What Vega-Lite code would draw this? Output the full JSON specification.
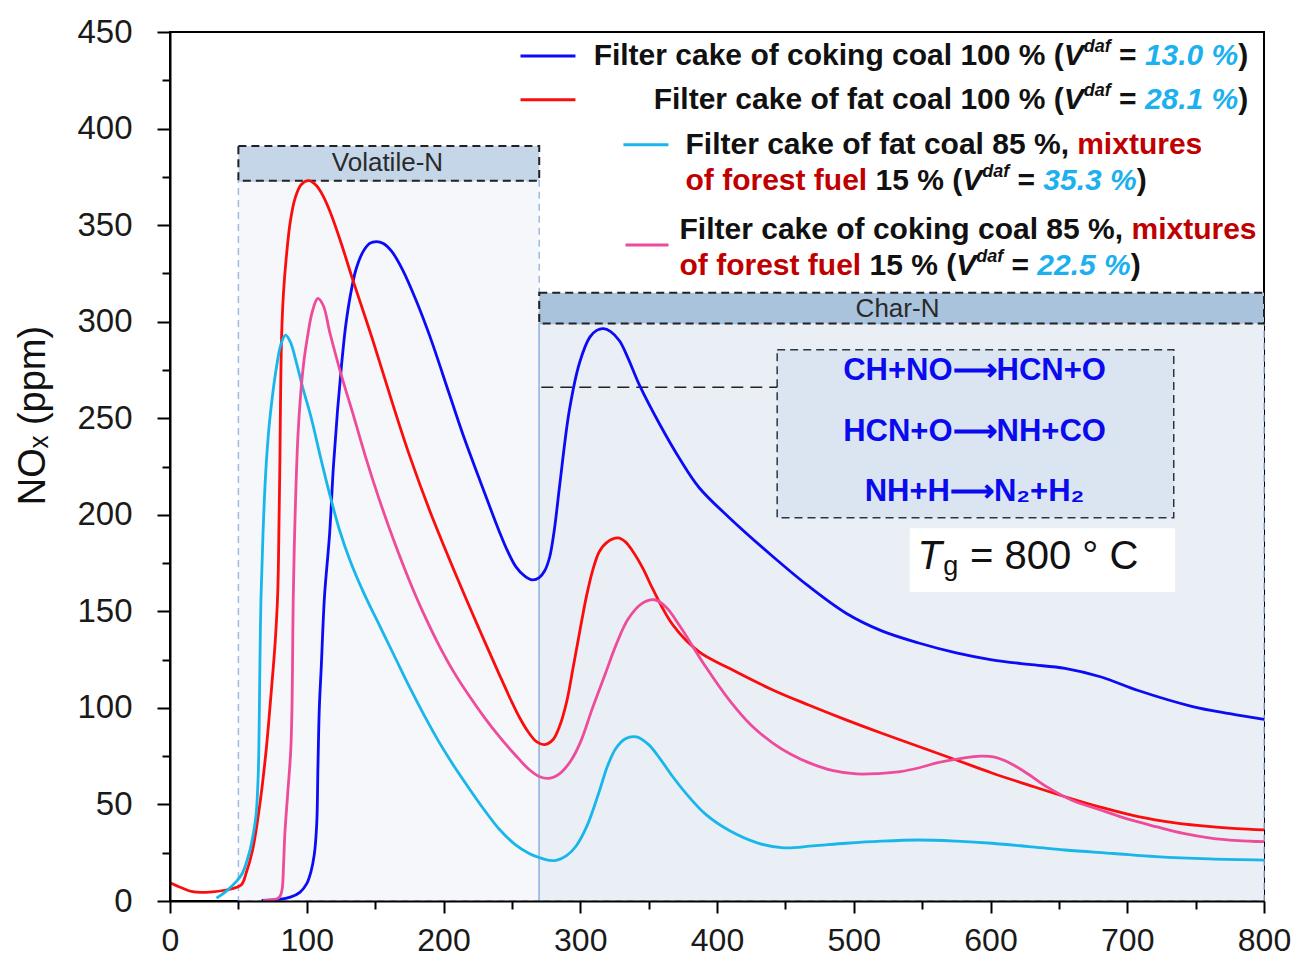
{
"$schema":"https://vega.github.io/schema/vega-lite/v6.json",
"width":1094,"height":869,
"autosize":"none",
"padding":{"left":170,"top":32,"right":30,"bottom":57},
"background":"white",
"config":{"view":{"stroke":"#000","strokeWidth":2},"font":"Liberation Sans"},
"datasets":{
"curves":[
{"series":"coking100","x":67,"y":0.3},{"series":"coking100","x":80,"y":0.8},{"series":"coking100","x":88,"y":2},{"series":"coking100","x":95,"y":4.5},{"series":"coking100","x":100,"y":9},{"series":"coking100","x":103,"y":15},{"series":"coking100","x":105.5,"y":24},{"series":"coking100","x":107.3,"y":40},{"series":"coking100","x":108.2,"y":70},{"series":"coking100","x":109.2,"y":100},{"series":"coking100","x":110.6,"y":121},{"series":"coking100","x":113,"y":158},{"series":"coking100","x":116.7,"y":190},{"series":"coking100","x":119.5,"y":225},{"series":"coking100","x":122.5,"y":254},{"series":"coking100","x":125.5,"y":278},{"series":"coking100","x":128.5,"y":298},{"series":"coking100","x":132,"y":314},{"series":"coking100","x":136,"y":327},{"series":"coking100","x":141,"y":336},{"series":"coking100","x":146,"y":340.5},{"series":"coking100","x":151,"y":341.5},{"series":"coking100","x":156,"y":340.5},{"series":"coking100","x":162,"y":336.5},{"series":"coking100","x":170,"y":327},{"series":"coking100","x":180,"y":311},{"series":"coking100","x":190,"y":292.5},{"series":"coking100","x":204.5,"y":262},{"series":"coking100","x":215,"y":240},{"series":"coking100","x":226,"y":219},{"series":"coking100","x":235,"y":202},{"series":"coking100","x":241,"y":191},{"series":"coking100","x":247,"y":181},{"series":"coking100","x":253,"y":173},{"series":"coking100","x":259,"y":168.5},{"series":"coking100","x":265,"y":166.3},{"series":"coking100","x":270,"y":167.5},{"series":"coking100","x":274,"y":171},{"series":"coking100","x":277.6,"y":178},{"series":"coking100","x":281,"y":192},{"series":"coking100","x":285,"y":215.5},{"series":"coking100","x":292,"y":254},{"series":"coking100","x":299.6,"y":279},{"series":"coking100","x":307,"y":292},{"series":"coking100","x":312,"y":295.5},{"series":"coking100","x":317,"y":296.4},{"series":"coking100","x":322,"y":295},{"series":"coking100","x":328.8,"y":290},{"series":"coking100","x":335,"y":281},{"series":"coking100","x":343.4,"y":267},{"series":"coking100","x":358,"y":247},{"series":"coking100","x":372.7,"y":229},{"series":"coking100","x":387,"y":214},{"series":"coking100","x":409,"y":198.5},{"series":"coking100","x":440.8,"y":178.4},{"series":"coking100","x":467,"y":163},{"series":"coking100","x":494.4,"y":149},{"series":"coking100","x":520,"y":140},{"series":"coking100","x":547.5,"y":133.6},{"series":"coking100","x":575,"y":128.5},{"series":"coking100","x":601,"y":124.9},{"series":"coking100","x":628,"y":122.5},{"series":"coking100","x":654.5,"y":120.5},{"series":"coking100","x":681,"y":116},{"series":"coking100","x":708,"y":109},{"series":"coking100","x":747.8,"y":100.7},{"series":"coking100","x":775,"y":97},{"series":"coking100","x":800,"y":94},
{"series":"fat100","x":0,"y":9.5},{"series":"fat100","x":8,"y":7},{"series":"fat100","x":16.5,"y":4.8},{"series":"fat100","x":29,"y":4.6},{"series":"fat100","x":41,"y":5.7},{"series":"fat100","x":52,"y":8.3},{"series":"fat100","x":55.7,"y":14.5},{"series":"fat100","x":60.4,"y":26.4},{"series":"fat100","x":65.5,"y":49},{"series":"fat100","x":70.3,"y":78},{"series":"fat100","x":74,"y":108},{"series":"fat100","x":77,"y":135},{"series":"fat100","x":78.8,"y":160},{"series":"fat100","x":79.8,"y":200},{"series":"fat100","x":80.4,"y":230},{"series":"fat100","x":80.8,"y":258},{"series":"fat100","x":81.6,"y":292},{"series":"fat100","x":83,"y":315},{"series":"fat100","x":85,"y":333},{"series":"fat100","x":88,"y":352},{"series":"fat100","x":91.5,"y":364},{"series":"fat100","x":96,"y":371},{"series":"fat100","x":101.5,"y":373},{"series":"fat100","x":107,"y":370.5},{"series":"fat100","x":112,"y":365},{"series":"fat100","x":117,"y":357},{"series":"fat100","x":125,"y":341},{"series":"fat100","x":133.5,"y":322},{"series":"fat100","x":148,"y":291},{"series":"fat100","x":163,"y":257},{"series":"fat100","x":175,"y":231},{"series":"fat100","x":190,"y":202},{"series":"fat100","x":212,"y":164},{"series":"fat100","x":226,"y":141},{"series":"fat100","x":241,"y":117},{"series":"fat100","x":250,"y":103},{"series":"fat100","x":256,"y":94.5},{"series":"fat100","x":262,"y":87.5},{"series":"fat100","x":268,"y":82.5},{"series":"fat100","x":274,"y":81},{"series":"fat100","x":280,"y":83.5},{"series":"fat100","x":285,"y":90.7},{"series":"fat100","x":290,"y":103},{"series":"fat100","x":294.5,"y":119.7},{"series":"fat100","x":300,"y":141},{"series":"fat100","x":304.6,"y":158},{"series":"fat100","x":309,"y":171},{"series":"fat100","x":314,"y":181},{"series":"fat100","x":320,"y":186},{"series":"fat100","x":327.6,"y":188},{"series":"fat100","x":333,"y":186},{"series":"fat100","x":338.5,"y":181},{"series":"fat100","x":346,"y":172},{"series":"fat100","x":353,"y":161.6},{"series":"fat100","x":367.7,"y":143},{"series":"fat100","x":387,"y":129},{"series":"fat100","x":409,"y":120.5},{"series":"fat100","x":440.8,"y":109.3},{"series":"fat100","x":467,"y":101.5},{"series":"fat100","x":494.4,"y":93.8},{"series":"fat100","x":520,"y":87},{"series":"fat100","x":547.5,"y":80},{"series":"fat100","x":575,"y":73},{"series":"fat100","x":601,"y":66.3},{"series":"fat100","x":628,"y":60},{"series":"fat100","x":654.5,"y":54},{"series":"fat100","x":681,"y":48.5},{"series":"fat100","x":708,"y":43.7},{"series":"fat100","x":735,"y":40.5},{"series":"fat100","x":761,"y":38.5},{"series":"fat100","x":780,"y":37.5},{"series":"fat100","x":800,"y":36.8},
{"series":"fat85","x":34,"y":1.5},{"series":"fat85","x":41,"y":5},{"series":"fat85","x":48.4,"y":10},{"series":"fat85","x":53,"y":14.5},{"series":"fat85","x":58,"y":25},{"series":"fat85","x":61,"y":35},{"series":"fat85","x":63,"y":45},{"series":"fat85","x":64.5,"y":65},{"series":"fat85","x":65.2,"y":90},{"series":"fat85","x":65.7,"y":120},{"series":"fat85","x":66.5,"y":156},{"series":"fat85","x":68,"y":190},{"series":"fat85","x":70,"y":222},{"series":"fat85","x":72.5,"y":246},{"series":"fat85","x":75,"y":262},{"series":"fat85","x":78,"y":277},{"series":"fat85","x":81,"y":288},{"series":"fat85","x":84.5,"y":293},{"series":"fat85","x":88,"y":289.5},{"series":"fat85","x":92,"y":280},{"series":"fat85","x":97,"y":266},{"series":"fat85","x":103,"y":251},{"series":"fat85","x":110,"y":230},{"series":"fat85","x":117,"y":210},{"series":"fat85","x":124,"y":192},{"series":"fat85","x":131.3,"y":177},{"series":"fat85","x":142,"y":159},{"series":"fat85","x":153,"y":143},{"series":"fat85","x":164,"y":127},{"series":"fat85","x":175,"y":111},{"series":"fat85","x":186,"y":96},{"series":"fat85","x":197,"y":82},{"series":"fat85","x":208,"y":69.5},{"series":"fat85","x":219,"y":58},{"series":"fat85","x":230,"y":47},{"series":"fat85","x":241,"y":37},{"series":"fat85","x":252,"y":29.5},{"series":"fat85","x":263,"y":24.5},{"series":"fat85","x":270,"y":22.5},{"series":"fat85","x":277.6,"y":21},{"series":"fat85","x":283,"y":21.2},{"series":"fat85","x":290,"y":23.5},{"series":"fat85","x":297,"y":28.5},{"series":"fat85","x":305,"y":39},{"series":"fat85","x":314,"y":57},{"series":"fat85","x":320,"y":70},{"series":"fat85","x":326,"y":79},{"series":"fat85","x":333,"y":84},{"series":"fat85","x":341,"y":85},{"series":"fat85","x":350,"y":81},{"series":"fat85","x":358,"y":74},{"series":"fat85","x":367,"y":65},{"series":"fat85","x":377.6,"y":55.5},{"series":"fat85","x":392,"y":44.7},{"series":"fat85","x":409,"y":36.5},{"series":"fat85","x":430,"y":30},{"series":"fat85","x":448.8,"y":27.5},{"series":"fat85","x":470,"y":28.5},{"series":"fat85","x":494.4,"y":29.9},{"series":"fat85","x":520,"y":31},{"series":"fat85","x":547.5,"y":31.6},{"series":"fat85","x":575,"y":31},{"series":"fat85","x":601,"y":29.9},{"series":"fat85","x":628,"y":28.2},{"series":"fat85","x":654.5,"y":26.4},{"series":"fat85","x":690,"y":24.6},{"series":"fat85","x":721,"y":23},{"series":"fat85","x":760,"y":21.8},{"series":"fat85","x":800,"y":21.2},
{"series":"coking85","x":68,"y":0.3},{"series":"coking85","x":74,"y":0.5},{"series":"coking85","x":78,"y":1},{"series":"coking85","x":80.5,"y":2.5},{"series":"coking85","x":82,"y":6},{"series":"coking85","x":83,"y":18},{"series":"coking85","x":84,"y":35},{"series":"coking85","x":86,"y":55},{"series":"coking85","x":88.3,"y":78},{"series":"coking85","x":89.3,"y":104},{"series":"coking85","x":89.7,"y":130},{"series":"coking85","x":90.1,"y":156},{"series":"coking85","x":91.5,"y":200},{"series":"coking85","x":93.5,"y":240},{"series":"coking85","x":95.5,"y":262},{"series":"coking85","x":98,"y":280},{"series":"coking85","x":100.5,"y":292},{"series":"coking85","x":104,"y":305},{"series":"coking85","x":108,"y":312},{"series":"coking85","x":112,"y":308.5},{"series":"coking85","x":117,"y":294},{"series":"coking85","x":125,"y":273},{"series":"coking85","x":133.5,"y":253},{"series":"coking85","x":143,"y":230},{"series":"coking85","x":153,"y":208},{"series":"coking85","x":164,"y":186},{"series":"coking85","x":175,"y":166},{"series":"coking85","x":186,"y":148},{"series":"coking85","x":197,"y":132},{"series":"coking85","x":208,"y":118},{"series":"coking85","x":219,"y":106},{"series":"coking85","x":230,"y":95},{"series":"coking85","x":241,"y":85},{"series":"coking85","x":252,"y":76},{"series":"coking85","x":262,"y":68.5},{"series":"coking85","x":270,"y":64.5},{"series":"coking85","x":277,"y":63.5},{"series":"coking85","x":285,"y":66},{"series":"coking85","x":293,"y":72.5},{"series":"coking85","x":300,"y":82},{"series":"coking85","x":309,"y":100},{"series":"coking85","x":318,"y":117},{"series":"coking85","x":326.4,"y":133},{"series":"coking85","x":335,"y":146},{"series":"coking85","x":345,"y":154},{"series":"coking85","x":354.4,"y":156},{"series":"coking85","x":363,"y":152},{"series":"coking85","x":372.7,"y":142.5},{"series":"coking85","x":392,"y":121},{"series":"coking85","x":409,"y":104},{"series":"coking85","x":425,"y":91},{"series":"coking85","x":440.8,"y":81.8},{"series":"coking85","x":454,"y":76},{"series":"coking85","x":467.5,"y":71.5},{"series":"coking85","x":485,"y":67.5},{"series":"coking85","x":502,"y":65.8},{"series":"coking85","x":518,"y":66},{"series":"coking85","x":534,"y":67},{"series":"coking85","x":548,"y":69},{"series":"coking85","x":560.7,"y":71.5},{"series":"coking85","x":580,"y":74},{"series":"coking85","x":593,"y":75},{"series":"coking85","x":603,"y":74.5},{"series":"coking85","x":614,"y":71.5},{"series":"coking85","x":628,"y":65.5},{"series":"coking85","x":641,"y":59.2},{"series":"coking85","x":660,"y":52},{"series":"coking85","x":681,"y":47},{"series":"coking85","x":700,"y":42.5},{"series":"coking85","x":721,"y":38.5},{"series":"coking85","x":741,"y":35},{"series":"coking85","x":761,"y":32.6},{"series":"coking85","x":781,"y":31.3},{"series":"coking85","x":800,"y":30.7}
]
},
"encoding":{
 "x":{"field":"x","type":"quantitative","scale":{"domain":[0,800],"nice":false,"zero":false},
  "axis":{"values":[0,50,100,150,200,250,300,350,400,450,500,550,600,650,700,750,800],
   "labelExpr":"datum.value % 100 === 0 ? datum.label : ''",
   "tickSize":{"condition":{"test":"datum.value % 100 === 0","value":12},"value":8},
   "tickWidth":2,"tickColor":"#000","domainColor":"#000","domainWidth":2,
   "labelFontSize":32,"labelColor":"#1a1a1a","labelPadding":12,"labelFlush":false,"labelOverlap":false,
   "grid":false,"title":null,"zindex":1}},
 "y":{"field":"y","type":"quantitative","scale":{"domain":[0,450],"nice":false,"zero":false},
  "axis":{"values":[0,25,50,75,100,125,150,175,200,225,250,275,300,325,350,375,400,425,450],
   "labelExpr":"datum.value % 50 === 0 ? datum.label : ''",
   "tickSize":{"condition":{"test":"datum.value % 50 === 0","value":13},"value":8},
   "tickWidth":2,"tickColor":"#000","domainColor":"#000","domainWidth":2,
   "labelFontSize":33,"labelColor":"#1a1a1a","labelPadding":25,"labelOverlap":false,
   "grid":false,"zindex":1,
   "title":"NOₓ (ppm)","titleFontSize":38,"titleFontWeight":"normal","titleColor":"#111",
   "titleX":-137,"titleY":383,"titleAngle":270,"titleAlign":"center","titleBaseline":"middle"}}
},
"layer":[
 {"data":{"values":[{"x":50,"x2":270,"y":0,"y2":373}]},
  "mark":{"type":"rect","fill":"#f6f7fa","stroke":"#9dbbe3","strokeDash":[7,5],"strokeWidth":1.5},
  "encoding":{"x2":{"field":"x2"},"y2":{"field":"y2"}}},
 {"data":{"values":[{"x":270,"x2":800,"y":0,"y2":299}]},
  "mark":{"type":"rect","fill":"#eaeff5","stroke":"#9dbbe3","strokeDash":[7,5],"strokeWidth":1.5},
  "encoding":{"x2":{"field":"x2"},"y2":{"field":"y2"}}},
 {"data":{"values":[{"x":270,"y":0,"y2":299}]},
  "mark":{"type":"rule","color":"#9dbbe3","strokeWidth":1.5},
  "encoding":{"y2":{"field":"y2"}}},
 {"data":{"values":[{"x":50,"x2":270,"y":373,"y2":391}]},
  "mark":{"type":"rect","fill":"#c4d6e8","stroke":"#222","strokeDash":[8,5],"strokeWidth":2},
  "encoding":{"x2":{"field":"x2"},"y2":{"field":"y2"}}},
 {"data":{"values":[{"x":270,"x2":800,"y":299,"y2":315}]},
  "mark":{"type":"rect","fill":"#a9c3dd","stroke":"#222","strokeDash":[8,5],"strokeWidth":2},
  "encoding":{"x2":{"field":"x2"},"y2":{"field":"y2"}}},
 {"data":{"values":[{"label":"Volatile-N","x":159,"y":382.2},{"label":"Char-N","x":532,"y":306.6}]},
  "mark":{"type":"text","fontSize":26,"color":"#2a2a2a","align":"center","baseline":"middle"},
  "encoding":{"text":{"field":"label"}}},
 {"data":{"values":[{"x":444,"x2":734,"y":198.4,"y2":285.5}]},
  "mark":{"type":"rect","fill":"#dbe5f1","stroke":"#2b3540","strokeDash":[8,5],"strokeWidth":1.5},
  "encoding":{"x2":{"field":"x2"},"y2":{"field":"y2"}}},
 {"data":{"values":[{"x":271.5,"x2":444,"y":266}]},
  "mark":{"type":"rule","color":"#222","strokeDash":[12,7],"strokeWidth":1.5},
  "encoding":{"x2":{"field":"x2"}}},
 {"data":{"values":[{"label":"CH+NO⟶HCN+O","x":588.3,"y":274.4},{"label":"HCN+O⟶NH+CO","x":588.3,"y":242.9},{"label":"NH+H⟶N₂+H₂","x":588.3,"y":211.8}]},
  "mark":{"type":"text","fontSize":31,"fontWeight":"bold","color":"#0a0aef","align":"center","baseline":"middle"},
  "encoding":{"text":{"field":"label"}}},
 {"data":{"values":[{"x":541,"x2":735,"y":160,"y2":193}]},
  "mark":{"type":"rect","fill":"#ffffff"},
  "encoding":{"x2":{"field":"x2"},"y2":{"field":"y2"}}},
 {"data":{"values":[{"label":"T","x":546.6,"y":178}]},
  "mark":{"type":"text","fontSize":40,"fontStyle":"italic","color":"#111","align":"left","baseline":"middle"},
  "encoding":{"text":{"field":"label"}}},
 {"data":{"values":[{"label":"g","x":565.5,"y":173}]},
  "mark":{"type":"text","fontSize":27,"color":"#111","align":"left","baseline":"middle"},
  "encoding":{"text":{"field":"label"}}},
 {"data":{"values":[{"label":"= 800 ° C","x":585,"y":178}]},
  "mark":{"type":"text","fontSize":40,"color":"#111","align":"left","baseline":"middle"},
  "encoding":{"text":{"field":"label"}}},
 {"data":{"name":"curves"},
  "mark":{"type":"line","interpolate":"catmull-rom","strokeWidth":2.8},
  "encoding":{"color":{"field":"series","type":"nominal","scale":{"domain":["coking100","fat100","fat85","coking85"],"range":["#0b0bf5","#fb0d0d","#18b6ea","#ee4b9a"]},"legend":null}}},
 {"data":{"values":[{"series":"coking100","x":256.3,"x2":296.5,"y":437.6},{"series":"fat100","x":256.3,"x2":296.5,"y":414.9},{"series":"fat85","x":331.6,"x2":364.5,"y":391.6},{"series":"coking85","x":333.1,"x2":364.5,"y":339.7}]},
  "mark":{"type":"rule","strokeWidth":3},
  "encoding":{"x2":{"field":"x2"},"color":{"field":"series","type":"nominal","scale":{"domain":["coking100","fat100","fat85","coking85"],"range":["#0b0bf5","#fb0d0d","#18b6ea","#ee4b9a"]},"legend":null}}},
 {"data":{"values":[{"label":"Filter cake of coking  coal 100 % (","x":653.6,"y":437.6},{"label":"Filter cake of fat coal 100 % (","x":653.6,"y":414.9}]},
  "mark":{"type":"text","fontSize":30,"fontWeight":"bold","color":"#111","align":"right","baseline":"middle"},
  "encoding":{"text":{"field":"label"}}},
 {"data":{"values":[{"label":"Filter cake of fat coal 85 %,","x":376.97,"y":391.6},{"label":"Filter cake of coking coal 85 %,","x":372.6,"y":347.6},{"label":"15 % (","x":515.9,"y":373},{"label":"15 % (","x":511.5,"y":329},{"label":")","x":781.2,"y":437.6},{"label":")","x":781.2,"y":414.9},{"label":")","x":706.9,"y":373},{"label":")","x":702.5,"y":329},{"label":"=","x":694,"y":437.6},{"label":"=","x":694,"y":414.9},{"label":"=","x":619.7,"y":373},{"label":"=","x":615.3,"y":329}]},
  "mark":{"type":"text","fontSize":30,"fontWeight":"bold","color":"#111","align":"left","baseline":"middle"},
  "encoding":{"text":{"field":"label"}}},
 {"data":{"values":[{"label":"V","x":653.6,"y":437.6},{"label":"V","x":653.6,"y":414.9},{"label":"V","x":579.3,"y":373},{"label":"V","x":574.9,"y":329}]},
  "mark":{"type":"text","fontSize":30,"fontWeight":"bold","fontStyle":"italic","color":"#111","align":"left","baseline":"middle"},
  "encoding":{"text":{"field":"label"}}},
 {"data":{"values":[{"label":"daf","x":668.2,"y":442.3},{"label":"daf","x":668.2,"y":419.6},{"label":"daf","x":593.9,"y":377.7},{"label":"daf","x":589.5,"y":333.7}]},
  "mark":{"type":"text","fontSize":18,"fontWeight":"bold","fontStyle":"italic","color":"#111","align":"left","baseline":"middle"},
  "encoding":{"text":{"field":"label"}}},
 {"data":{"values":[{"label":"13.0 %","x":712.9,"y":437.6},{"label":"28.1 %","x":712.9,"y":414.9},{"label":"35.3 %","x":638.6,"y":373},{"label":"22.5 %","x":634.2,"y":329}]},
  "mark":{"type":"text","fontSize":30,"fontWeight":"bold","fontStyle":"italic","color":"#1cb0ee","align":"left","baseline":"middle"},
  "encoding":{"text":{"field":"label"}}},
 {"data":{"values":[{"label":"mixtures","x":663.4,"y":391.6},{"label":"of forest fuel","x":376.97,"y":373},{"label":"mixtures","x":703.1,"y":347.6},{"label":"of forest fuel","x":372.6,"y":329}]},
  "mark":{"type":"text","fontSize":30,"fontWeight":"bold","color":"#c00000","align":"left","baseline":"middle"},
  "encoding":{"text":{"field":"label"}}}
]
}
